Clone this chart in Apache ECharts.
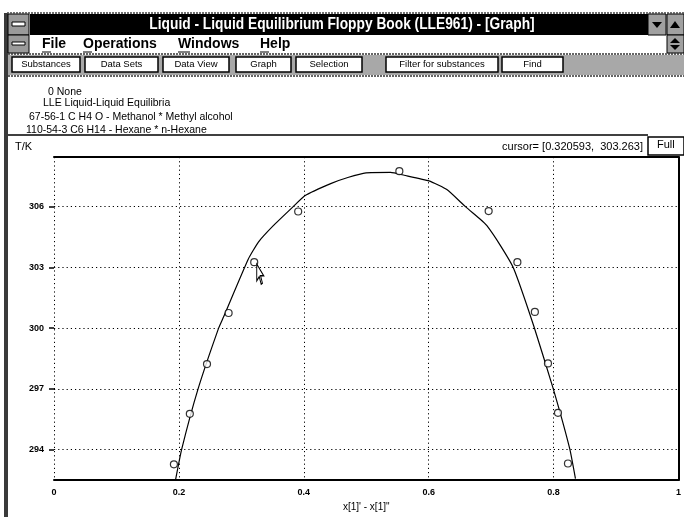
<!DOCTYPE html>
<html><head><meta charset="utf-8">
<script src="https://cdn.jsdelivr.net/npm/echarts@6/dist/echarts.min.js"></script>
<style>html,body{margin:0;padding:0;background:#fff}#c{width:684px;height:517px}</style>
</head><body><div id="c"></div>
<script>
// ---------- texts ----------
const windowTitle = 'Liquid - Liquid Equilibrium Floppy Book (LLE961) - [Graph]';
const menuItems = ['File', 'Operations', 'Windows', 'Help'];
const toolButtons = ['Substances', 'Data Sets', 'Data View', 'Graph', 'Selection', 'Filter for substances', 'Find'];
const infoLines = ['0 None', 'LLE Liquid-Liquid Equilibria', '67-56-1 C H4 O - Methanol * Methyl alcohol', '110-54-3 C6 H14 - Hexane * n-Hexane'];
const yName = 'T/K';
const xName = 'x[1]\' - x[1]"';
const fullLabel = 'Full';

// ---------- data ----------
const xTicks = [0, 0.2, 0.4, 0.6, 0.8, 1];
const yTicks = [294, 297, 300, 303, 306];
const measuredX = [0.192, 0.2175, 0.245, 0.2796, 0.3206, 0.391, 0.553, 0.696, 0.742, 0.770, 0.791, 0.807, 0.823];
const measuredT = [293.28, 295.77, 298.23, 300.75, 303.26, 305.76, 307.75, 305.78, 303.26, 300.80, 298.26, 295.82, 293.32];
const fitX = [0.1947, 0.2043, 0.2307, 0.2636, 0.2716, 0.311, 0.3273, 0.3512, 0.383, 0.4016, 0.444, 0.4705, 0.4997, 0.539, 0.5607, 0.6005, 0.6296, 0.6588, 0.6826, 0.6932, 0.7144, 0.7357, 0.7685, 0.799, 0.8258, 0.835];
const fitT = [292.52, 294, 297, 300, 300.56, 303.4, 304.25, 305.06, 306.0, 306.54, 307.15, 307.44, 307.67, 307.69, 307.55, 307.27, 306.83, 306.0, 305.38, 305.06, 304.1, 302.97, 300.08, 297.05, 294.05, 292.57];
const cursor = [0.320593, 303.263];

// ---------- layout (decoration only) ----------
const menuX = [42, 83, 178, 260];
const btnSpan = [[12, 80], [85, 158], [163, 229], [236, 291], [296, 362], [386, 498], [502, 563]];
const infoX = [48, 43, 29, 26];
const infoY = [92, 103, 117, 130];

const chart = echarts.init(document.getElementById('c'), null, {renderer: 'canvas'});

function txt(x, y, text, font, fill, align, valign) {
  return {type: 'text', x: x, y: y, silent: true, z: 100,
    style: {text: text, font: font, fill: fill || '#000',
      align: align || 'left', verticalAlign: valign || 'middle',
      textAlign: align || 'left', textVerticalAlign: valign || 'middle'}};
}
function rect(x, y, w, h, fill, stroke, lw) {
  return {type: 'rect', silent: true, z: 90, shape: {x: x, y: y, width: w, height: h},
    style: {fill: fill || 'none', stroke: stroke || null, lineWidth: lw || 1}};
}
function poly(points, fill) {
  return {type: 'polygon', silent: true, z: 95, shape: {points: points}, style: {fill: fill || '#000'}};
}
function hline(x1, x2, y, w, color, dash) {
  return {type: 'line', silent: true, z: 95, shape: {x1: x1, y1: y, x2: x2, y2: y},
    style: {stroke: color || '#000', lineWidth: w || 1, lineDash: dash || null}};
}

const g = [];
// window frame
g.push(rect(4, 13, 4, 504, '#3a3a3a'));
g.push(hline(7, 684, 13, 1.5, '#444', [2, 1]));
// title bar
g.push(rect(30, 14, 618, 21, '#000'));
g.push(rect(8, 14, 21, 21, '#9a9a9a', '#000', 1));
g.push(rect(12, 22, 13, 4, '#fff', '#000', 1));
const titleText = txt(342, 25, windowTitle, 'bold 16px "Liberation Sans", Arial, sans-serif', '#fff', 'center');
titleText.scaleX = 0.86;
g.push(titleText);
g.push(rect(648, 14, 18, 21, '#a0a0a0', '#000', 1));
g.push(poly([[652, 22], [662, 22], [657, 28]], '#000'));
g.push(rect(667, 14, 17, 21, '#a0a0a0', '#000', 1));
g.push(poly([[670, 28], [680, 28], [675, 21]], '#000'));
// menu bar
g.push(rect(8, 35, 21, 18, '#9a9a9a', '#000', 1));
g.push(rect(12, 42, 13, 3, '#fff', '#000', 1));
g.push(rect(667, 35, 17, 18, '#a0a0a0', '#000', 1));
g.push(poly([[670, 43], [680, 43], [675, 38]], '#000'));
g.push(poly([[670, 45], [680, 45], [675, 50]], '#000'));
menuItems.forEach(function (m, i) {
  g.push(txt(menuX[i], 44, m, 'bold 14px "Liberation Sans", Arial, sans-serif'));
  g.push(hline(menuX[i], menuX[i] + (i === 2 ? 12 : 9), 52, 1));
});
g.push(hline(8, 684, 54, 1.5, '#333', [2, 1]));
// toolbar
g.push(rect(8, 55, 676, 20, '#a8a8a8'));
btnSpan.forEach(function (s, i) {
  g.push(rect(s[0], 57, s[1] - s[0], 15, '#fff', '#000', 1.5));
  g.push(txt((s[0] + s[1]) / 2, 64.5, toolButtons[i], '9.5px "Liberation Sans", Arial, sans-serif', '#000', 'center'));
});
g.push(hline(8, 684, 76, 1.5, '#333', [2, 1]));
// info lines
infoLines.forEach(function (t, i) {
  g.push(txt(infoX[i], infoY[i], t, '10.5px "Liberation Sans", Arial, sans-serif'));
});
g.push(hline(8, 648, 135, 1.5));
// header row of graph
g.push(txt(15, 147, yName, '11px "Liberation Sans", Arial, sans-serif'));
g.push(txt(643, 147, 'cursor= [' + cursor[0].toFixed(6) + ',  ' + cursor[1].toFixed(3) + ']', '11px "Liberation Sans", Arial, sans-serif', '#000', 'right'));
g.push(rect(648, 137, 36, 18, '#fff', '#000', 1.5));
g.push(txt(657, 145, fullLabel, '11px "Liberation Sans", Arial, sans-serif'));

const dotted = {type: [1.2, 3], color: '#000', width: 1};

chart.setOption({
  animation: false,
  backgroundColor: '#fff',
  grid: {left: 54, right: 2, top: 157, bottom: 30, containLabel: false},
  xAxis: [{
    type: 'value', min: xTicks[0], max: xTicks[xTicks.length - 1], interval: 0.2, position: 'bottom',
    axisLine: {show: true, onZero: false, lineStyle: {color: '#000', width: 2}},
    axisTick: {show: false},
    axisLabel: {color: '#000', fontSize: 9, fontWeight: 'bold', margin: 8, fontFamily: '"Liberation Sans", Arial, sans-serif'},
    splitLine: {show: true, lineStyle: dotted},
    name: xName, nameLocation: 'middle', nameGap: 18,
    nameTextStyle: {color: '#000', fontSize: 10, fontFamily: '"Liberation Sans", Arial, sans-serif'}
  }, {
    type: 'value', min: xTicks[0], max: xTicks[xTicks.length - 1], position: 'top',
    axisLine: {show: true, onZero: false, lineStyle: {color: '#000', width: 2}},
    axisTick: {show: false}, axisLabel: {show: false}, splitLine: {show: false}
  }],
  yAxis: [{
    type: 'value', min: 292.5, max: 308.45, position: 'left',
    axisLine: {show: false},
    axisTick: {show: true, customValues: yTicks, length: 5, lineStyle: {color: '#000', width: 1.5}},
    axisLabel: {customValues: yTicks, color: '#000', fontSize: 9, fontWeight: 'bold', margin: 10, fontFamily: '"Liberation Sans", Arial, sans-serif'},
    splitLine: {show: false}
  }, {
    type: 'value', min: 292.5, max: 308.45, position: 'right',
    axisLine: {show: true, onZero: false, lineStyle: {color: '#000', width: 2}},
    axisTick: {show: false}, axisLabel: {show: false}, splitLine: {show: false}
  }],
  series: [{
    type: 'line', xAxisIndex: 0, yAxisIndex: 0,
    data: fitX.map(function (x, i) { return [x, fitT[i]]; }),
    symbol: 'none', smooth: 0.15, lineStyle: {color: '#000', width: 1.2}, z: 3,
    markLine: {silent: true, symbol: ['none', 'none'], label: {show: false},
      lineStyle: dotted, data: yTicks.map(function (v) { return {yAxis: v}; })}
  }, {
    type: 'scatter', xAxisIndex: 0, yAxisIndex: 0,
    data: measuredX.map(function (x, i) { return [x, measuredT[i]]; }),
    symbol: 'circle', symbolSize: 7,
    itemStyle: {color: '#fff', borderColor: '#000', borderWidth: 1.2}, z: 4,
    markPoint: {silent: true,
      symbol: 'path://M0,0 L0,16 L4,12 L7,19 L9,18 L6,11 L11,11 Z',
      symbolSize: [12, 20], symbolKeepAspect: true, symbolOffset: [6, 12],
      itemStyle: {color: '#fff', borderColor: '#000', borderWidth: 1.2},
      label: {show: false},
      data: [{coord: cursor}]}
  }],
  graphic: g
});
</script></body></html>
